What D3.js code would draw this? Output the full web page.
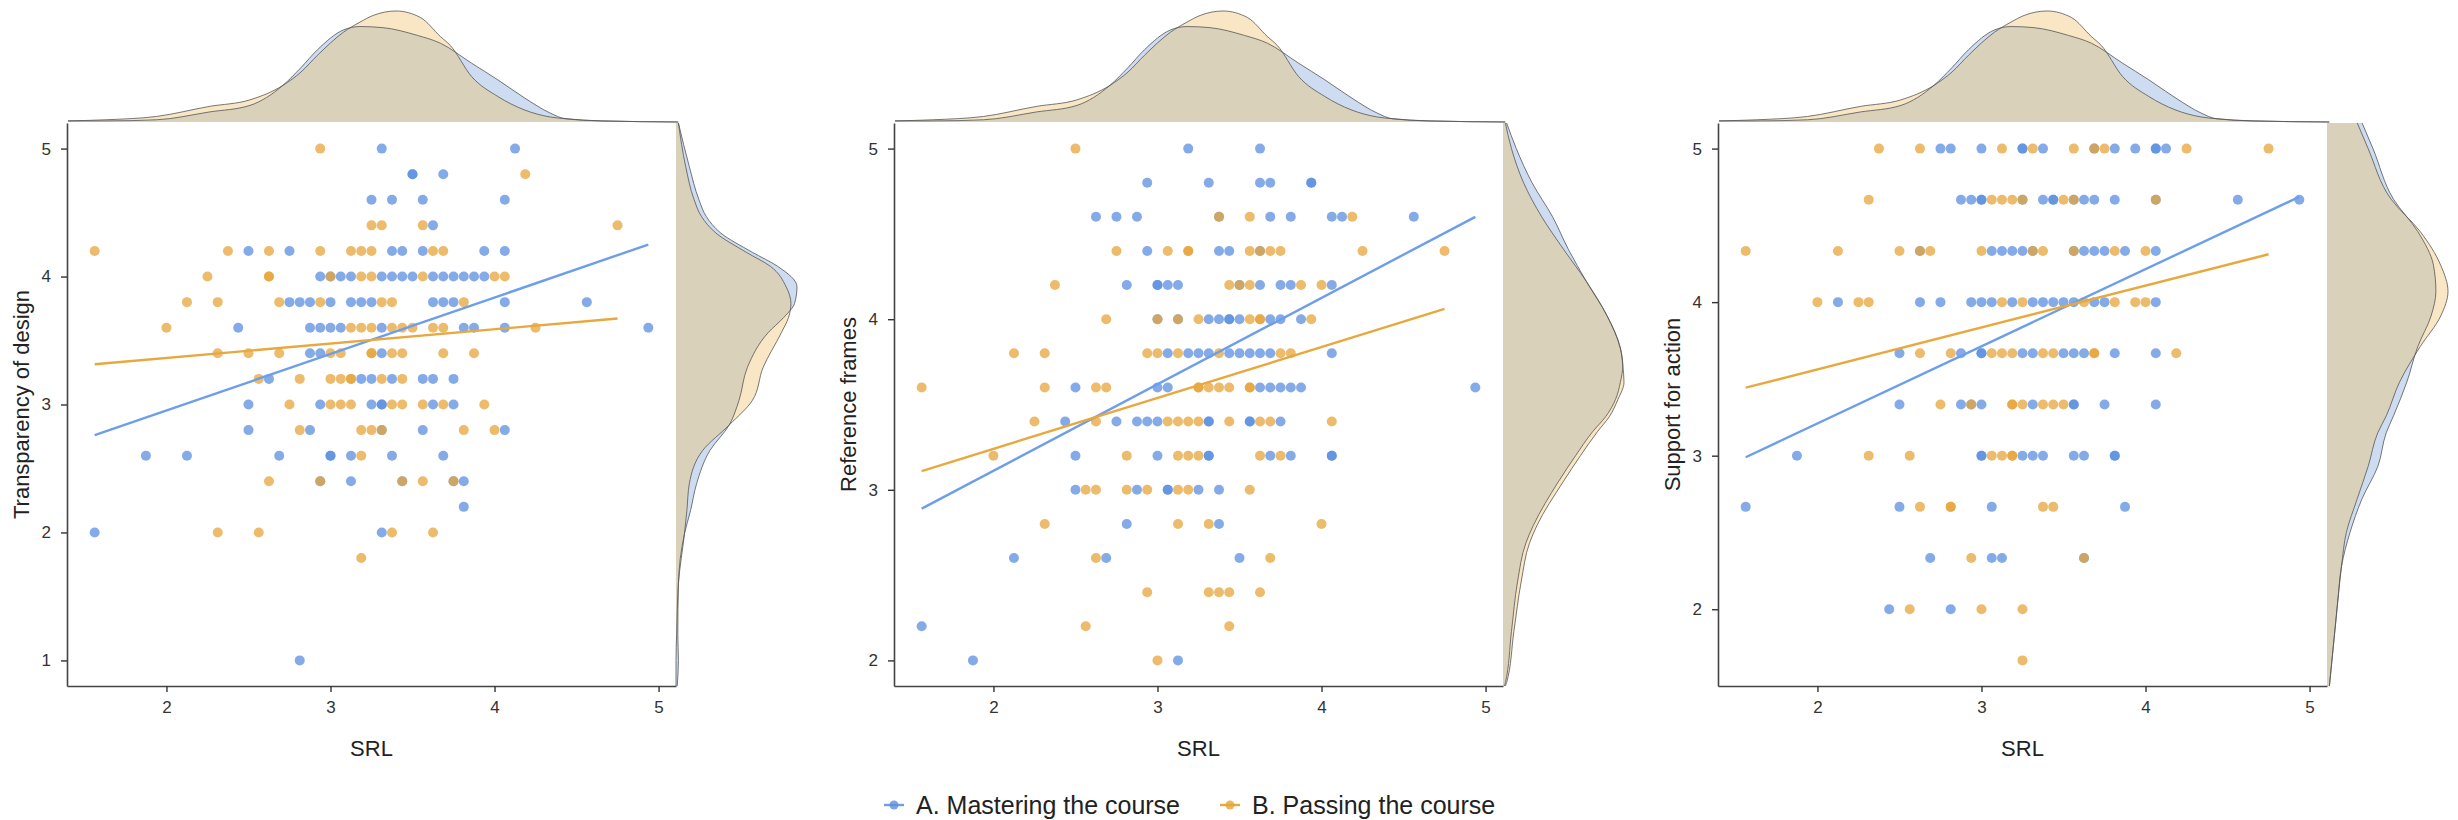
<!DOCTYPE html>
<html lang="en">
<head>
<meta charset="UTF-8">
<script src="https://d3js.org/d3.v7.min.js"></script>
<title>SRL and course perception, by group</title>
<style>
  body { margin: 0; background: #fff; }
  svg { display: block; font-family: "Liberation Sans", Arial, sans-serif; }
</style>
</head>
<body>
<svg width="2458" height="820"></svg>
<script>
// rows: [score, [SRL values of the students in that row]]
const transparencyA = [
  [5.0, [3.3125, 4.125]],
  [4.8, [3.5, 3.5, 3.6875]],
  [4.6, [3.25, 3.375, 3.5625, 4.0625]],
  [4.4, [3.625]],
  [4.2, [2.5, 2.75, 3.375, 3.4375, 3.5625, 3.9375, 4.0625]],
  [4.0, [2.9375, 3, 3.0625, 3.125, 3.3125, 3.375, 3.4375, 3.5, 3.625, 3.6875, 3.75, 3.8125, 3.875, 3.9375]],
  [3.8, [2.75, 2.8125, 2.875, 3, 3.125, 3.1875, 3.25, 3.625, 3.6875, 3.75, 4.0625, 4.5625]],
  [3.6, [2.4375, 2.875, 2.9375, 3, 3.0625, 3.3125, 3.8125, 3.875, 4.0625, 4.9375]],
  [3.4, [2.875, 2.9375, 3.3125]],
  [3.2, [2.625, 3.1875, 3.25, 3.375, 3.5625, 3.625, 3.75]],
  [3.0, [2.5, 2.9375, 3.25, 3.3125, 3.3125, 3.625, 3.75]],
  [2.8, [2.5, 2.875, 3.3125, 3.5625, 4.0625]],
  [2.6, [1.875, 2.125, 2.6875, 3, 3, 3.125, 3.375, 3.6875]],
  [2.4, [2.9375, 3.125, 3.4375, 3.75, 3.8125]],
  [2.2, [3.8125]],
  [2.0, [1.5625, 3.3125]],
  [1.0, [2.8125]]
];
const transparencyB = [
  [5.0, [2.9375]],
  [4.8, [4.1875]],
  [4.4, [3.25, 3.3125, 3.5625, 4.75]],
  [4.2, [1.5625, 2.375, 2.625, 2.9375, 3.125, 3.1875, 3.25, 3.625, 3.6875]],
  [4.0, [2.25, 2.625, 2.625, 3, 3.1875, 3.25, 3.5625, 4, 4.0625]],
  [3.8, [2.125, 2.3125, 2.6875, 2.9375, 3.3125, 3.375, 3.8125]],
  [3.6, [2, 3.125, 3.1875, 3.25, 3.375, 3.4375, 3.5, 3.625, 3.6875, 4.25]],
  [3.4, [2.3125, 2.5, 2.6875, 3, 3.0625, 3.25, 3.25, 3.375, 3.4375, 3.6875, 3.875]],
  [3.2, [2.5625, 2.8125, 3, 3.0625, 3.125, 3.125, 3.3125, 3.4375]],
  [3.0, [2.75, 3, 3.0625, 3.125, 3.375, 3.4375, 3.5625, 3.6875, 3.9375]],
  [2.8, [2.8125, 3.1875, 3.25, 3.3125, 3.8125, 4]],
  [2.6, [3.1875]],
  [2.4, [2.625, 2.9375, 3.4375, 3.5625, 3.75]],
  [2.0, [2.3125, 2.5625, 3.375, 3.625]],
  [1.8, [3.1875]]
];

const referenceA = [
  [5.0, [3.1875, 3.625]],
  [4.8, [2.9375, 3.3125, 3.625, 3.6875, 3.9375, 3.9375]],
  [4.6, [2.625, 2.75, 2.875, 3.375, 3.6875, 3.8125, 4.0625, 4.125, 4.5625]],
  [4.4, [2.9375, 3.375, 3.4375, 3.625]],
  [4.2, [2.8125, 3, 3, 3.0625, 3.125, 3.5, 3.625, 3.75, 3.8125, 4.0625]],
  [4.0, [3, 3.125, 3.3125, 3.375, 3.4375, 3.4375, 3.5, 3.6875, 3.75, 3.875]],
  [3.8, [3.0625, 3.1875, 3.25, 3.3125, 3.4375, 3.5, 3.5625, 3.625, 3.6875, 4.0625]],
  [3.6, [2.5, 3, 3.0625, 3.625, 3.6875, 3.75, 3.8125, 3.875, 4.9375]],
  [3.4, [2.4375, 2.75, 2.875, 2.9375, 3, 3.3125, 3.3125, 3.5625, 3.5625, 3.75]],
  [3.2, [2.5, 3, 3.3125, 3.3125, 3.6875, 3.8125, 4.0625, 4.0625]],
  [3.0, [2.5, 2.875, 3.0625, 3.0625, 3.25, 3.375]],
  [2.8, [2.8125, 3.375]],
  [2.6, [2.125, 2.6875, 3.5]],
  [2.2, [1.5625]],
  [2.0, [1.875, 3.125]]
];
const referenceB = [
  [5.0, [2.5]],
  [4.6, [3.375, 3.5625, 4.1875]],
  [4.4, [2.75, 3.0625, 3.1875, 3.1875, 3.5625, 3.625, 3.6875, 3.75, 4.25, 4.75]],
  [4.2, [2.375, 3.4375, 3.5, 3.5625, 3.875, 4]],
  [4.0, [2.6875, 3, 3.125, 3.25, 3.5625, 3.625, 3.625, 3.9375]],
  [3.8, [2.125, 2.3125, 2.9375, 3, 3.125, 3.375, 3.75, 3.8125]],
  [3.6, [1.5625, 2.3125, 2.625, 2.6875, 3.25, 3.25, 3.3125, 3.375, 3.4375, 3.5625, 3.5625]],
  [3.4, [2.25, 2.625, 3.0625, 3.125, 3.1875, 3.25, 3.4375, 3.625, 3.6875, 4.0625]],
  [3.2, [2, 2.8125, 3.125, 3.1875, 3.25, 3.625, 3.75]],
  [3.0, [2.5625, 2.625, 2.8125, 2.9375, 3.125, 3.1875, 3.5625]],
  [2.8, [2.3125, 3.125, 3.3125, 4]],
  [2.6, [2.625, 3.6875]],
  [2.4, [2.9375, 3.3125, 3.375, 3.4375, 3.625]],
  [2.2, [2.5625, 3.4375]],
  [2.0, [3]]
];

const supportA = [
  [5.0, [2.75, 2.8125, 3, 3.25, 3.25, 3.375, 3.6875, 3.8125, 3.9375, 4.0625, 4.0625, 4.125]],
  [4.6667, [2.875, 2.9375, 3, 3, 3.25, 3.375, 3.4375, 3.4375, 3.5625, 3.625, 3.6875, 3.8125, 4.0625, 4.5625, 4.9375]],
  [4.3333, [2.625, 3.0625, 3.125, 3.1875, 3.25, 3.3125, 3.5625, 3.625, 3.6875, 3.75, 3.875, 4.0625]],
  [4.0, [2.125, 2.625, 2.75, 2.9375, 3, 3.0625, 3.1875, 3.3125, 3.375, 3.4375, 3.5, 3.5625, 3.6875, 3.75, 4.0625]],
  [3.6667, [2.5, 2.875, 3, 3, 3.25, 3.3125, 3.5, 3.5625, 3.625, 3.8125, 4.0625]],
  [3.3333, [2.5, 2.875, 2.9375, 3, 3.3125, 3.5625, 3.5625, 3.75, 4.0625]],
  [3.0, [1.875, 3, 3, 3.25, 3.3125, 3.375, 3.5625, 3.625, 3.8125, 3.8125]],
  [2.6667, [1.5625, 2.5, 3.0625, 3.875]],
  [2.3333, [2.6875, 3.0625, 3.125, 3.625]],
  [2.0, [2.4375, 2.8125]]
];
const supportB = [
  [5.0, [2.375, 2.625, 3.125, 3.3125, 3.5625, 3.6875, 3.75, 4.25, 4.75]],
  [4.6667, [2.3125, 3.0625, 3.125, 3.1875, 3.25, 3.5, 3.5625, 4.0625]],
  [4.3333, [1.5625, 2.125, 2.5, 2.625, 2.6875, 3, 3.3125, 3.375, 3.5625, 3.8125, 4]],
  [4.0, [2, 2.25, 2.3125, 3.125, 3.25, 3.625, 3.8125, 3.9375, 4]],
  [3.6667, [2.625, 2.8125, 3.0625, 3.125, 3.1875, 3.375, 3.4375, 3.6875, 3.6875, 4.1875]],
  [3.3333, [2.75, 2.9375, 3.1875, 3.1875, 3.25, 3.375, 3.4375, 3.5]],
  [3.0, [2.3125, 2.5625, 3.0625, 3.125, 3.1875, 3.1875]],
  [2.6667, [2.625, 2.8125, 2.8125, 3.375, 3.4375]],
  [2.3333, [2.9375, 3.625]],
  [2.0, [2.5625, 3, 3.25]],
  [1.6667, [3.25]]
];

// fitted lines: [[SRL, score], [SRL, score]]
const fitTransparencyA = [[1.5625, 2.76], [4.9375, 4.25]];
const fitTransparencyB = [[1.5625, 3.315], [4.75, 3.672]];
const fitReferenceA = [[1.5625, 2.89], [4.9375, 4.60]];
const fitReferenceB = [[1.5625, 3.11], [4.75, 4.06]];
const fitSupportA = [[1.5625, 2.99], [4.9375, 4.686]];
const fitSupportB = [[1.5625, 3.443], [4.75, 4.312]];

// marginal densities, relative to the tallest curve of each margin
// SRL (top margins, same students in all three panels): [SRL, density]
const srlDensityA = [[1.40, 0.01], [1.63, 0.01], [1.94, 0.02], [2.26, 0.09], [2.51, 0.15], [2.71, 0.33], [2.82, 0.49],
  [2.92, 0.65], [3.08, 0.83], [3.18, 0.86], [3.32, 0.85], [3.53, 0.78], [3.67, 0.71], [3.86, 0.53], [4.02, 0.38],
  [4.18, 0.22], [4.34, 0.08], [4.43, 0.03], [4.65, 0.01], [5.12, 0.0]];
const srlDensityB = [[1.40, 0.01], [1.63, 0.02], [1.94, 0.05], [2.26, 0.14], [2.51, 0.20], [2.71, 0.33], [2.82, 0.45],
  [2.92, 0.60], [3.08, 0.81], [3.18, 0.90], [3.26, 0.96], [3.40, 1.0], [3.55, 0.94], [3.67, 0.77], [3.73, 0.69],
  [3.86, 0.41], [4.02, 0.23], [4.18, 0.11], [4.34, 0.045], [4.43, 0.03], [4.65, 0.01], [5.12, 0.0]];
// scores (right margins): [score, density]
const transparencyDensityA = [[0.8, 0.01], [1.0, 0.02], [1.2, 0.015], [1.6, 0.02], [1.99, 0.07], [2.17, 0.12], [2.38, 0.17],
  [2.64, 0.28], [2.84, 0.44], [3.03, 0.52], [3.29, 0.59], [3.56, 0.76], [3.68, 0.89], [3.79, 0.98], [3.92, 1.0],
  [4.08, 0.84], [4.19, 0.63], [4.34, 0.37], [4.47, 0.25], [4.6, 0.19], [4.86, 0.11], [5.2, 0.02]];
const transparencyDensityB = [[0.8, 0.0], [1.0, 0.0], [1.2, 0.005], [1.6, 0.02], [1.99, 0.07], [2.17, 0.09], [2.38, 0.11],
  [2.64, 0.22], [2.84, 0.44], [3.03, 0.63], [3.29, 0.72], [3.56, 0.87], [3.68, 0.93], [3.79, 0.95], [3.92, 0.91],
  [4.08, 0.78], [4.19, 0.58], [4.34, 0.33], [4.47, 0.21], [4.6, 0.15], [4.86, 0.08], [5.2, 0.02]];
const referenceDensityA = [[1.85, 0.01], [1.87, 0.02], [2.17, 0.07], [2.46, 0.12], [2.69, 0.19], [2.79, 0.25], [3.05, 0.46],
  [3.2, 0.6], [3.34, 0.74], [3.43, 0.85], [3.53, 0.93], [3.63, 0.97], [3.73, 0.99], [3.83, 0.97], [4.02, 0.86],
  [4.22, 0.69], [4.41, 0.54], [4.6, 0.41], [4.8, 0.24], [5.0, 0.11], [5.15, 0.03]];
const referenceDensityB = [[1.85, 0.02], [1.87, 0.03], [2.17, 0.09], [2.46, 0.15], [2.69, 0.22], [2.79, 0.28], [3.05, 0.50],
  [3.2, 0.64], [3.34, 0.78], [3.43, 0.88], [3.53, 0.95], [3.63, 1.0], [3.73, 0.99], [3.83, 0.97], [4.02, 0.86],
  [4.22, 0.69], [4.41, 0.50], [4.6, 0.32], [4.8, 0.17], [5.0, 0.07], [5.15, 0.02]];
const supportDensityA = [[1.5, 0.02], [1.74, 0.05], [2.06, 0.09], [2.28, 0.12], [2.5, 0.19], [2.72, 0.29], [2.93, 0.42],
  [3.15, 0.49], [3.26, 0.55], [3.48, 0.66], [3.71, 0.75], [3.91, 0.86], [4.07, 0.90], [4.24, 0.88], [4.46, 0.75],
  [4.67, 0.55], [5.0, 0.38], [5.167, 0.29]];
const supportDensityB = [[1.5, 0.02], [1.74, 0.05], [2.06, 0.09], [2.28, 0.12], [2.5, 0.16], [2.72, 0.25], [2.93, 0.34],
  [3.15, 0.42], [3.26, 0.49], [3.48, 0.60], [3.71, 0.77], [3.91, 0.94], [4.07, 1.0], [4.24, 0.94], [4.46, 0.77],
  [4.67, 0.53], [5.0, 0.34], [5.167, 0.25]];

const yTitles = ["Transparency of design", "Reference frames", "Support for action"];
const xTicks = [2, 3, 4, 5];
const yTicksTransparency = [1, 2, 3, 4, 5];
const yTicksReference = [2, 3, 4, 5];
const yTicksSupport = [2, 3, 4, 5];
const groupNames = ["A. Mastering the course", "B. Passing the course"];

const pointColor = ["#5b8fe0", "#e5a43a"];
const lineColor = ["#6d9eea", "#e8a83e"];
const densColor = ["#82a8da", "#edc06b"];

const panels = [
  { title: yTitles[0], rows: [transparencyA, transparencyB], fits: [fitTransparencyA, fitTransparencyB],
    yTicks: yTicksTransparency, dens: [transparencyDensityA, transparencyDensityB] },
  { title: yTitles[1], rows: [referenceA, referenceB], fits: [fitReferenceA, fitReferenceB],
    yTicks: yTicksReference, dens: [referenceDensityA, referenceDensityB] },
  { title: yTitles[2], rows: [supportA, supportB], fits: [fitSupportA, fitSupportB],
    yTicks: yTicksSupport, dens: [supportDensityA, supportDensityB] }
];
const topDens = [srlDensityA, srlDensityB];

const plotLeft = [67, 894, 1718];
const plotW = 609, plotTop = 123, plotBottom = 686;
const topBase = 122, topPeak = 11, rightWidth = 121;

const svg = d3.select("svg");

const flat = rows => rows.flatMap(([y, xs]) => xs.map(x => [x, y]));
const expand = ([a, b]) => { const d = (b - a) * 0.05; return [a - d, b + d]; };

panels.forEach((p, i) => {
  const left = plotLeft[i], right = left + plotW;
  const data = p.rows.map(flat);
  const all = data.flat();
  const x = d3.scaleLinear().domain(expand(d3.extent(all, d => d[0]))).range([left, right]);
  const y = d3.scaleLinear().domain(expand(d3.extent(all, d => d[1]))).range([plotBottom, plotTop]);

  // top margin: SRL density
  const ty = d3.scaleLinear().domain([0, 1]).range([topBase, topPeak]);
  const g0 = svg.append("g");
  topDens.forEach((dens, k) => {
    g0.append("path").datum(dens)
      .attr("d", d3.area().curve(d3.curveMonotoneX).x(d => x(d[0])).y0(topBase).y1(d => ty(d[1])))
      .attr("fill", densColor[k]).attr("fill-opacity", 0.4);
  });
  topDens.forEach(dens => {
    g0.append("path").datum(dens)
      .attr("d", d3.line().curve(d3.curveMonotoneX).x(d => x(d[0])).y(d => ty(d[1])))
      .attr("fill", "none").attr("stroke", "#555").attr("stroke-width", 0.8);
  });

  // right margin: score density
  const rx = d3.scaleLinear().domain([0, 1]).range([right, right + rightWidth]);
  p.dens.forEach((dens, k) => {
    g0.append("path").datum(dens)
      .attr("d", d3.area().curve(d3.curveMonotoneY).y(d => y(d[0])).x0(right).x1(d => rx(d[1])))
      .attr("fill", densColor[k]).attr("fill-opacity", 0.4);
  });
  p.dens.forEach(dens => {
    g0.append("path").datum(dens)
      .attr("d", d3.line().curve(d3.curveMonotoneY).y(d => y(d[0])).x(d => rx(d[1])))
      .attr("fill", "none").attr("stroke", "#555").attr("stroke-width", 0.8);
  });

  // points
  data.forEach((g, k) => {
    svg.append("g").selectAll("circle").data(g).join("circle")
      .attr("cx", d => x(d[0])).attr("cy", d => y(d[1])).attr("r", 5)
      .attr("fill", pointColor[k]).attr("fill-opacity", 0.75);
  });

  // fitted lines
  p.fits.forEach((f, k) => {
    svg.append("path").datum(f)
      .attr("d", d3.line().x(d => x(d[0])).y(d => y(d[1])))
      .attr("stroke", lineColor[k]).attr("stroke-width", 2.4).attr("fill", "none");
  });

  // axes
  const ax = svg.append("g").attr("transform", `translate(0,${plotBottom})`)
    .call(d3.axisBottom(x).tickValues(xTicks).tickFormat(d3.format("d")).tickSize(6).tickSizeOuter(0).tickPadding(9));
  const ay = svg.append("g").attr("transform", `translate(${left},0)`)
    .call(d3.axisLeft(y).tickValues(p.yTicks).tickFormat(d3.format("d")).tickSize(6).tickSizeOuter(0).tickPadding(10));
  [ax, ay].forEach(a => {
    a.select(".domain").attr("stroke", "#444").attr("stroke-width", 1.6);
    a.selectAll(".tick line").attr("stroke", "#333").attr("stroke-width", 1.4);
    a.selectAll(".tick text").attr("fill", "#333").style("font-size", "17px").style("font-family", "'Liberation Sans', Arial, sans-serif");
  });

  svg.append("text").attr("x", (left + right) / 2).attr("y", 756)
    .attr("text-anchor", "middle").attr("fill", "#222").style("font-size", "22px").text("SRL");
  svg.append("text")
    .attr("transform", `translate(${left - 38},${(plotTop + plotBottom) / 2}) rotate(-90)`)
    .attr("text-anchor", "middle").attr("fill", "#222").style("font-size", "22px").text(p.title);
});

// legend
const legendX = [894, 1230];
groupNames.forEach((name, k) => {
  const g = svg.append("g").attr("transform", `translate(${legendX[k]},805)`);
  g.append("line").attr("x1", -10).attr("x2", 10).attr("stroke", lineColor[k]).attr("stroke-width", 2.4);
  g.append("circle").attr("r", 4.5).attr("fill", pointColor[k]).attr("fill-opacity", 0.8);
  g.append("text").attr("x", 22).attr("dy", "0.35em").attr("fill", "#222")
    .style("font-size", "25px").text(name);
});
</script>
</body>
</html>
